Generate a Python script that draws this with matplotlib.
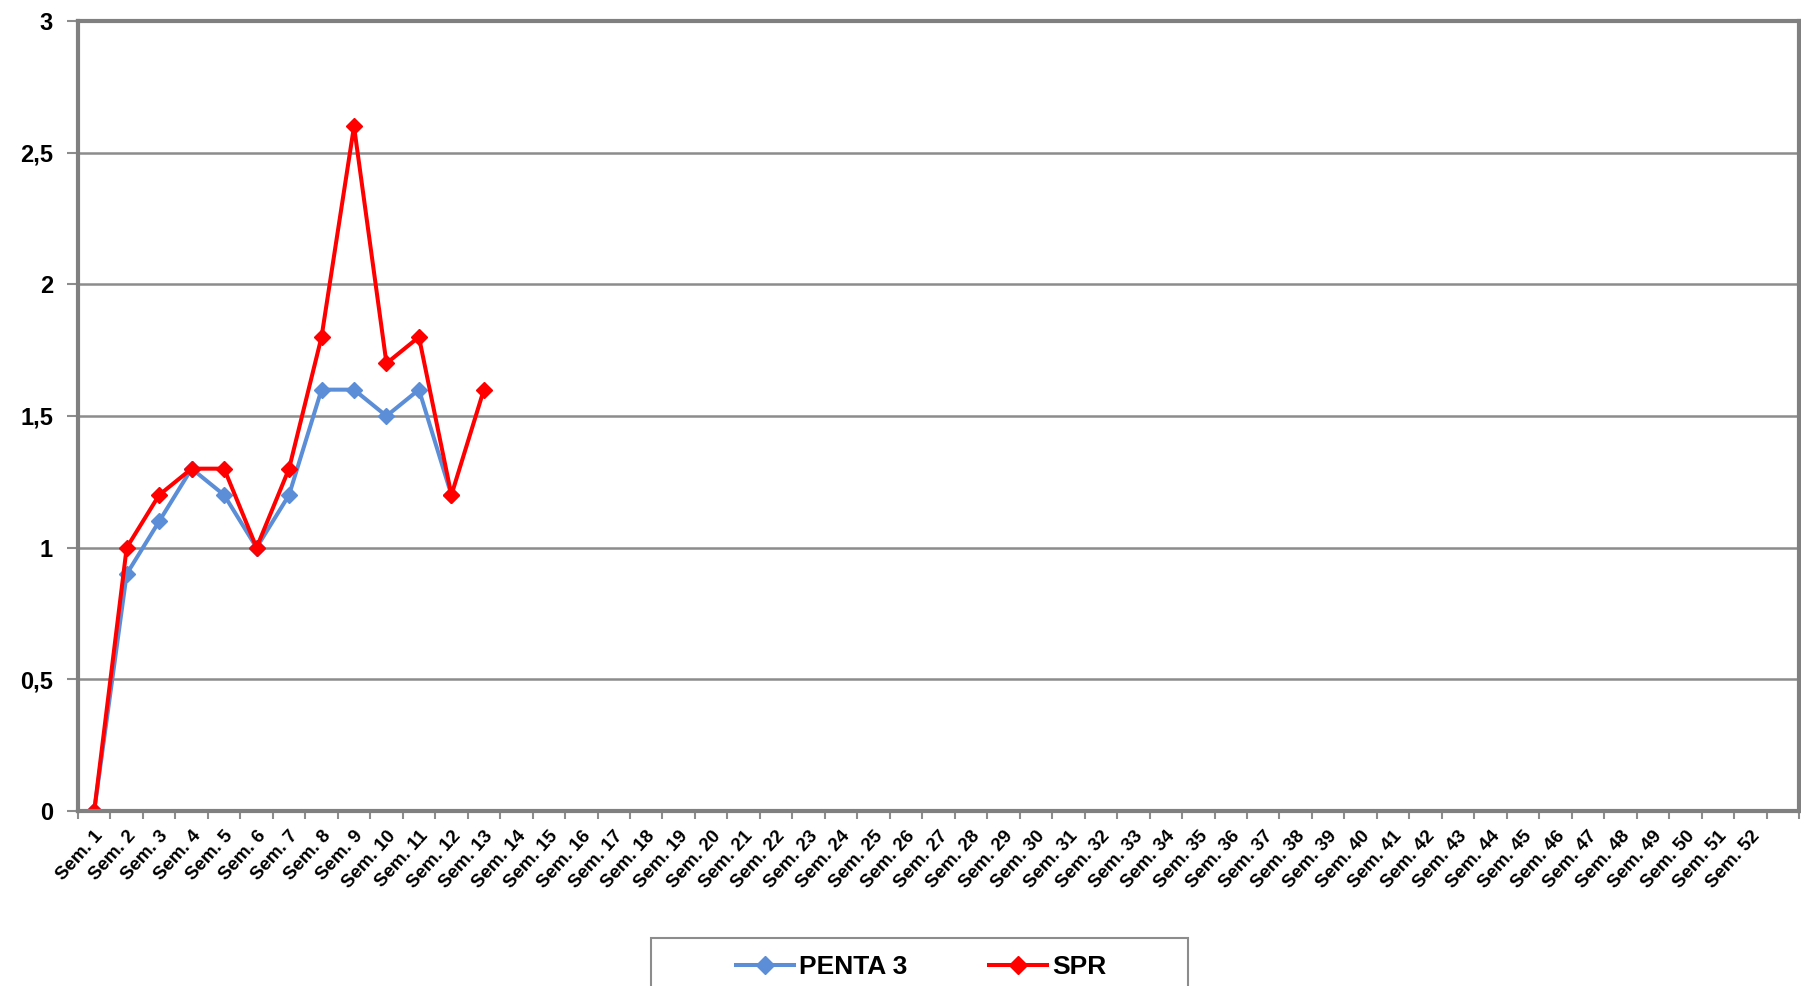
import numpy as np
import matplotlib
matplotlib.use('Agg')
import matplotlib.pyplot as plt
from matplotlib.patches import Rectangle

# données hebdomadaires
semaines = ['Sem. %d' % i for i in range(1, 53)] + ['']
penta3 = [0, 0.9, 1.1, 1.3, 1.2, 1.0, 1.2, 1.6, 1.6, 1.5, 1.6, 1.2]
spr = [0, 1.0, 1.2, 1.3, 1.3, 1.0, 1.3, 1.8, 2.6, 1.7, 1.8, 1.2, 1.6]
y_ticks = [0, 0.5, 1, 1.5, 2, 2.5, 3]
y_labels = ['0', '0,5', '1', '1,5', '2', '2,5', '3']

plt.rcParams['font.family'] = ['Liberation Sans', 'DejaVu Sans']

fig = plt.figure(figsize=(18.01, 9.86), dpi=100)
ax = fig.add_axes([0.0433, 0.1775, 0.9556, 0.8012])

ax.plot(range(len(penta3)), penta3, color='#5B8ED6', lw=2.9,
        marker='D', ms=8, label='PENTA 3')
ax.plot(range(len(spr)), spr, color='#FF0000', lw=2.9,
        marker='D', ms=8, label='SPR')

ax.set_xlim(-0.5, len(semaines) - 0.5)
ax.set_ylim(0, 3)

ax.set_yticks(y_ticks)
ax.set_yticklabels(y_labels, fontsize=17, fontweight='bold')
ax.grid(axis='y', color='#8C8C8C', lw=1.8)
ax.set_axisbelow(True)

# étiquettes au centre des catégories, graduations entre elles
ax.set_xticks(np.arange(len(semaines)))
ax.set_xticklabels(semaines, rotation=48, ha='right', rotation_mode='anchor',
                   fontsize=13.5, fontweight='bold')
ax.tick_params(axis='x', length=0, pad=12)
ax.set_xticks(np.arange(len(semaines) + 1) - 0.5, minor=True)
ax.tick_params(axis='x', which='minor', length=6, width=1.5, color='#8C8C8C')
ax.tick_params(axis='y', length=8, width=1.5, color='#8C8C8C', pad=10)

for s in ax.spines.values():
    s.set_color('#808080')
    s.set_linewidth(3)

# légende sans cadre + cadre dessiné à part (plus large)
leg = fig.legend(loc='upper center', bbox_to_anchor=(0.5115, 0.039), ncol=2,
                 frameon=False, prop={'weight': 'bold', 'size': 19},
                 handlelength=2.2, handletextpad=0.2, columnspacing=3.1,
                 borderpad=0.3, borderaxespad=0, markerscale=1.2)
fig.patches.append(Rectangle((651 / 1801, -0.05), 537 / 1801, 0.0987,
                             transform=fig.transFigure, fill=False,
                             edgecolor='#8C8C8C', lw=1.5))

fig.savefig('out.png', dpi=100)
